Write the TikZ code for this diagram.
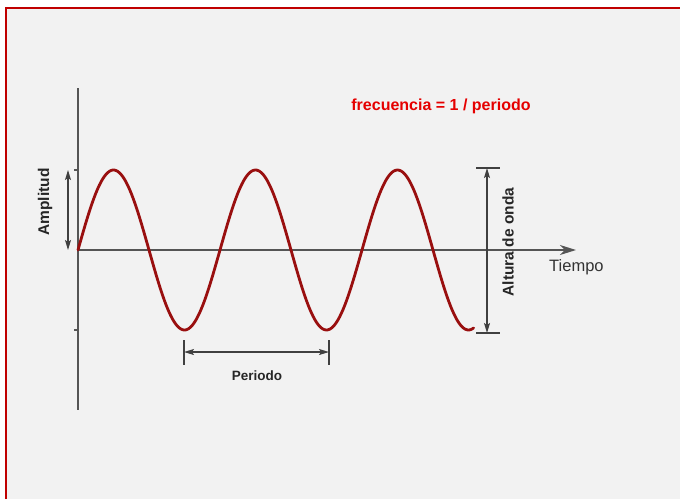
\documentclass[tikz,border=0pt]{standalone}
\usepackage{fontspec}
\setmainfont{Liberation Sans}
\usepackage{tikz}
\usetikzlibrary{arrows.meta}
\usetikzlibrary{positioning}

\definecolor{fondo}{HTML}{F2F2F2}
\definecolor{marco}{HTML}{C00000}
\definecolor{onda}{HTML}{990F0F}
\definecolor{eje}{HTML}{555555}

\begin{document}
\begin{tikzpicture}[x=1pt,y=-1pt,
    axis/.style={eje,line width=1.4pt},
    medida/.style={black!75,line width=1.3pt,{Stealth[length=10pt,width=6pt,inset=2pt]}-{Stealth[length=10pt,width=6pt,inset=2pt]}},
    tope/.style={black!75,line width=1.3pt},
    rotulo/.style={font=\fontsize{15.5}{17}\selectfont\bfseries,text=black!85,inner sep=1pt}]
    \useasboundingbox (0,0) rectangle (680,499);
    \fill[white] (0,0) rectangle (680,499);
    \fill[fondo] (6,8) rectangle (680,499);
    \draw[marco,line width=2.2pt] (6,499)--(6,8)--(680,8);
    
    % ejes
    \coordinate (o) at (78,250);
    \draw[axis] (78,88)--(78,410);
    \draw[axis] (74,170)--(78,170) (74,330)--(78,330);
    \draw[axis,-{Stealth[length=16pt,width=10pt,inset=5pt]}] (o)--(576,250) coordinate (t);
    \node[anchor=north west,font=\fontsize{16.5}{18}\selectfont,text=black!80,inner sep=1pt] (tiempo) at (548,258) {Tiempo};
    
    % onda
    \draw[onda,line width=2.8pt,line cap=round] plot[domain=0:1003,samples=240,smooth]
        ({78+\x/360*142},{250-80*sin(\x)});
    
    % amplitud
    \coordinate (a1) at (68,170);
    \coordinate (a2) at (68,250);
    \draw[medida] (a1)--(a2);
    \node[rotulo,rotate=90] (amp) at (45,202) {Amplitud};
    
    % altura de onda
    \coordinate (h1) at (487,168);
    \coordinate (h2) at (487,333);
    \draw[tope] (476,168)--(500,168) (476,333)--(500,333);
    \draw[medida] (h1)--(h2);
    \node[rotulo,rotate=90] (alt) at (508,242) {Altura de onda};
    
    % periodo
    \coordinate (p1) at (184,352);
    \coordinate (p2) at (329,352);
    \draw[tope] (184,340)--(184,365) (329,340)--(329,365);
    \draw[medida] (p1)--(p2);
    \node[rotulo,font=\fontsize{13.5}{15}\selectfont\bfseries] (per) at (257,376) {Periodo};
    
    \node[font=\fontsize{16}{18}\selectfont\bfseries,text=red!90!black] (frec) at (441,106) {frecuencia = 1 / periodo};
\end{tikzpicture}
\end{document}
